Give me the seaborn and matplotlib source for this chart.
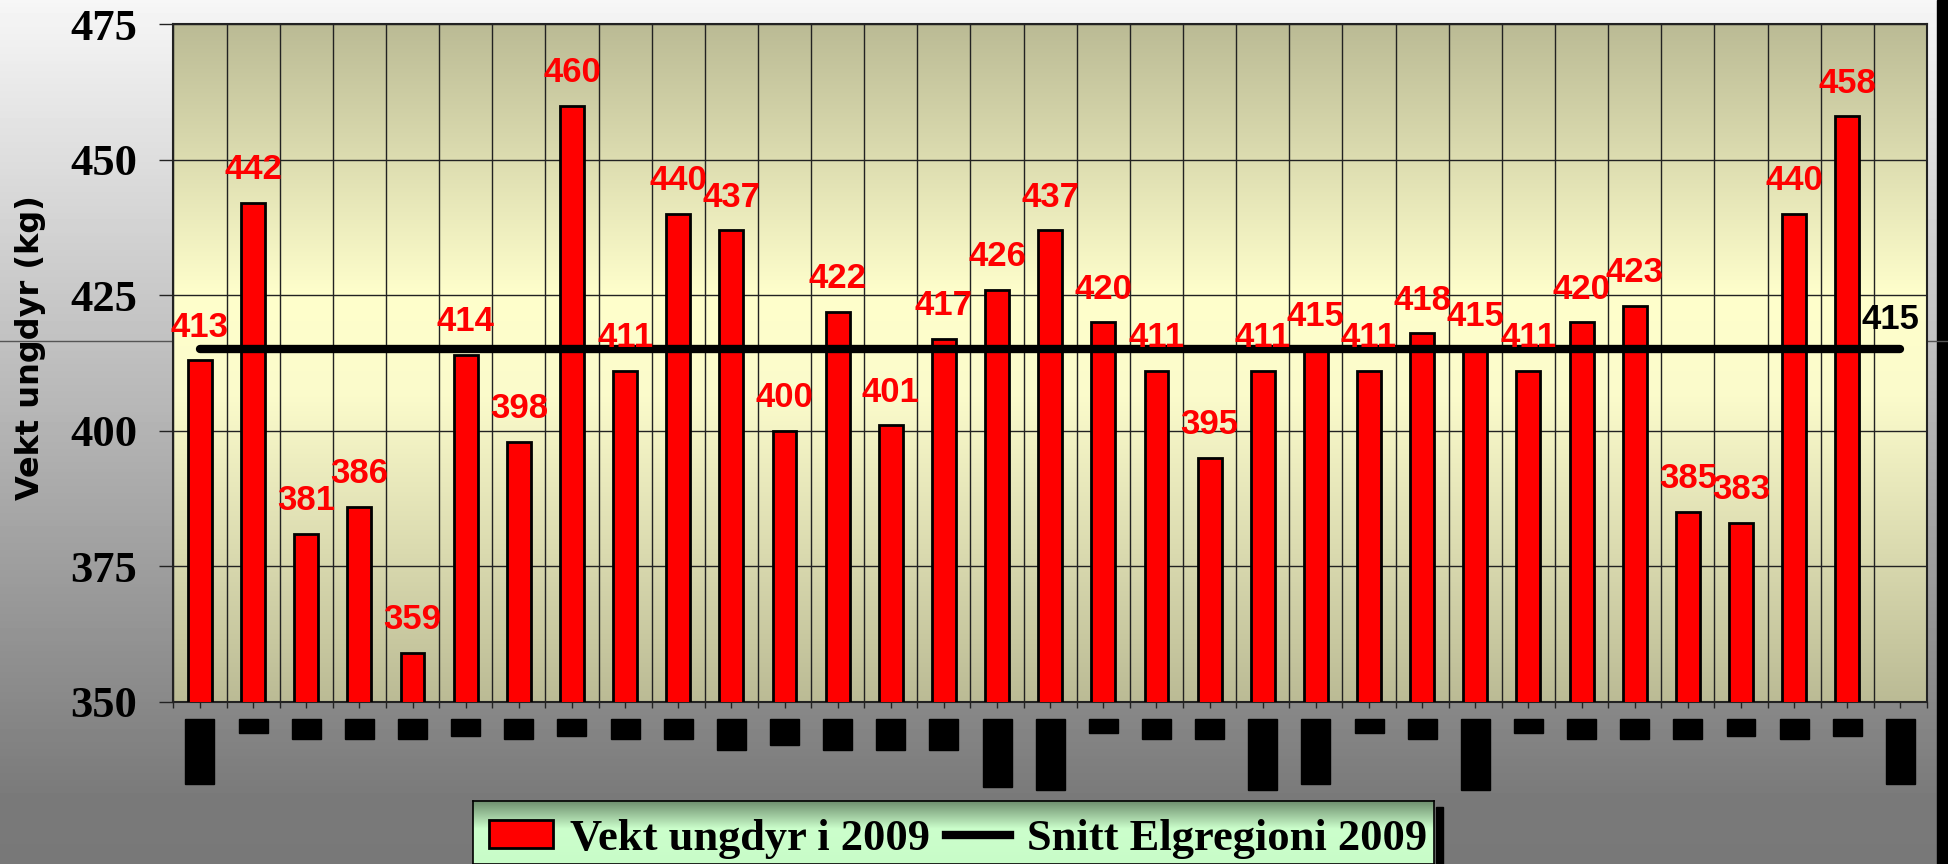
import numpy as np
import pandas as pd
import matplotlib
matplotlib.use('Agg')
import matplotlib.pyplot as plt
import matplotlib.transforms as mtransforms
from matplotlib.colors import LinearSegmentedColormap
from matplotlib.patches import Rectangle
from matplotlib.lines import Line2D
import seaborn as sns

# Data: slaughter weight of young moose per area, 2009 (area names are blacked out in the source)
omraader = [f"Område {i}" for i in range(1, 34)]
vekt_2009 = [413, 442, 381, 386, 359, 414, 398, 460, 411, 440, 437, 400, 422, 401, 417, 426,
             437, 420, 411, 395, 411, 415, 411, 418, 415, 411, 420, 423, 385, 383, 440, 458]
snitt_elgregion = 415
y_ticks = [350, 375, 400, 425, 450, 475]

# depth (px) of the black boxes covering the category names
skjult_navn_px = [65, 14, 20, 20, 20, 17, 20, 17, 20, 20, 31, 26, 31, 31, 31, 68, 71,
                  14, 20, 20, 71, 65, 14, 20, 71, 14, 20, 20, 20, 17, 20, 17, 65]

plt.rcParams['font.family'] = ['Liberation Sans', 'DejaVu Sans']

W, H = 1948, 864
fig = plt.figure(figsize=(W / 100, H / 100), dpi=100)

# figure background: light grey at top fading to mid grey
bg = fig.add_axes([0, 0, 1, 1], zorder=-10)
ramp = np.interp(np.linspace(0, 1, 256), [0, 0.92, 1], [0.965, 0.48, 0.47])
bg.imshow(np.repeat(ramp[:, None], 2, axis=1), cmap='gray', vmin=0, vmax=1,
          aspect='auto', extent=[0, 1, 0, 1], origin='upper')
bg.axhline(1 - 341 / H, color='#555555', lw=1)
bg.add_patch(Rectangle((1937 / W, 0), 11 / W, 1, color='black'))
bg.set_xlim(0, 1)
bg.set_ylim(0, 1)
bg.axis('off')

# main plot
ax = fig.add_axes([173.4 / W, 1 - 701.7 / H, (1927 - 173.4) / W, (701.7 - 24.3) / H])
khaki = LinearSegmentedColormap.from_list(
    'khaki', [(0, '#bbbb95'), (0.45, '#fbfbcb'), (0.6, '#ffffcc'), (1, '#bbbb95')])
ax.imshow(np.linspace(1, 0, 256)[:, None], cmap=khaki, vmin=0, vmax=1, aspect='auto',
          extent=[0, 1, 0, 1], transform=ax.transAxes, zorder=0)

df = pd.DataFrame({'omraade': omraader[:len(vekt_2009)], 'vekt': vekt_2009})
sns.barplot(data=df, x='omraade', y='vekt', order=omraader, color='#ff0000', saturation=1,
            width=0.45, edgecolor='black', linewidth=2, ax=ax, zorder=3)

bars = ax.containers[0]
labels = [f"{v:.0f}" if np.isfinite(v) else "" for v in bars.datavalues]
ax.bar_label(bars, labels=labels, padding=12, color='#ff0000', fontsize=25,
             fontweight='bold', zorder=6)

x_pos = np.arange(len(omraader))
ax.plot([x_pos[0], x_pos[-1]], [snitt_elgregion, snitt_elgregion], color='black', lw=6,
        solid_capstyle='round', zorder=5)
ax.annotate(str(snitt_elgregion), xy=(x_pos[-1], snitt_elgregion), xytext=(-7, 10),
            textcoords='offset points', ha='center', va='bottom', fontsize=25,
            fontweight='bold', color='black', zorder=6)

ax.set_xlim(-0.5, len(omraader) - 0.5)
ax.set_ylim(y_ticks[0], y_ticks[-1])
ax.set_yticks(y_ticks)
ax.set_yticklabels([str(t) for t in y_ticks], fontfamily='Liberation Serif',
                   fontweight='bold', fontsize=32)
ax.set_xticks(x_pos)
ax.set_xticklabels([''] * len(omraader))
ax.set_xticks(np.arange(-0.5, len(omraader), 1), minor=True)
ax.tick_params(axis='y', length=10, width=1, pad=16, color='#222222')
ax.tick_params(axis='x', which='both', length=4, width=1, color='#222222')
ax.set_axisbelow(True)
ax.grid(axis='x', which='minor', color='#222222', lw=1)
ax.grid(axis='y', which='major', color='#222222', lw=1)
ax.set_xlabel('')
ax.set_ylabel('')
for s in ax.spines.values():
    s.set_color('#222222')
    s.set_linewidth(1.5)

fig.text(31 / W, 1 - 348 / H, 'Vekt ungdyr (kg)', rotation=90, ha='center', va='center',
         fontsize=23, fontweight='bold', family='DejaVu Sans')

# black boxes hiding the category names
trans = mtransforms.blended_transform_factory(ax.transData, fig.transFigure)
for i, d in enumerate(skjult_navn_px):
    ax.add_patch(Rectangle((x_pos[i] - 0.2725, 1 - (719 + d) / H), 0.545, d / H,
                           transform=trans, color='black', clip_on=False, zorder=4))

# legend box with green gradient
leg_ax = fig.add_axes([473 / W, 0, (1434 - 473) / W, (864 - 801) / H])
green = LinearSegmentedColormap.from_list(
    'green', [(0, '#c8fcc8'), (0.55, '#ccffcc'), (1, '#6b8b6b')])
leg_ax.imshow(np.linspace(1, 0, 128)[:, None], cmap=green, vmin=0, vmax=1, aspect='auto',
              extent=[0, 1, 0, 1])
leg_ax.set_xticks([])
leg_ax.set_yticks([])
for s in leg_ax.spines.values():
    s.set_color('black')
    s.set_linewidth(1.2)
fig.patches.append(Rectangle((1436 / W, 0), 7 / W, (864 - 807) / H, color='black',
                             transform=fig.transFigure, figure=fig))

handles = [Rectangle((0, 0), 1, 1, facecolor='#ff0000', edgecolor='black', linewidth=2),
           Line2D([0], [0], color='black', lw=6)]
fig.legend(handles, ['Vekt ungdyr i 2009', 'Snitt Elgregioni 2009'], loc='center left',
           bbox_to_anchor=(489 / W, 1 - 839 / H), ncol=2, frameon=False,
           prop=dict(family='Liberation Serif', weight='bold', size=32),
           handlelength=1.45, handleheight=0.59, handletextpad=0.38, columnspacing=0.35,
           borderpad=0, borderaxespad=0)

fig.savefig('out.png', dpi=100)
